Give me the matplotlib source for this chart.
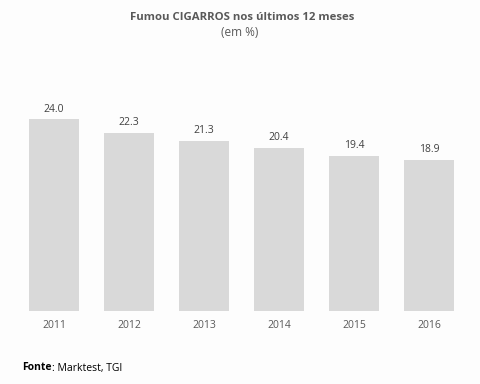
import matplotlib.pyplot as plt

years = ["2011", "2012", "2013", "2014", "2015", "2016"]
values = [24.0, 22.3, 21.3, 20.4, 19.4, 18.9]

plt.rcParams['font.family'] = ['Open Sans', 'DejaVu Sans']

fig = plt.figure(figsize=(4.81, 3.84), dpi=100, facecolor='#fdfdfd')
ax = fig.add_axes([16.5 / 481, (384 - 310.5) / 384, 450 / 481, 220.5 / 384])
ax.set_facecolor('#fdfdfd')

x = range(len(years))
ax.bar(x, values, width=0.667, color='#d9d9d9')
for i, v in enumerate(values):
    ax.text(i, v + 0.6, f"{v:.1f}", ha='center', va='bottom', fontsize=7.5, color='#404040')

ax.set_xlim(-0.5, 5.5)
ax.set_ylim(0, 220.5 / 7.96)
ax.set_xticks(list(x))
ax.set_xticklabels(years, fontsize=7.5, color='#595959')
ax.tick_params(axis='x', length=0, pad=7)
ax.set_yticks([])
for s in ax.spines.values():
    s.set_visible(False)

fig.text(242 / 481, 1 - 17 / 384, "Fumou CIGARROS nos últimos 12 meses", ha='center', va='center',
         fontsize=8.2, fontweight='bold', color='#595959')
fig.text(240 / 481, 1 - 33 / 384, "(em %)", ha='center', va='center', fontsize=8.5, color='#595959')

t = fig.text(22 / 481, 1 - 368 / 384, "Fonte", ha='left', va='center', fontsize=7.5, fontweight='bold', color='black')
fig.canvas.draw()
bb = t.get_window_extent()
fig.text(bb.x1 / 481 / 1.0, 1 - 368 / 384, ": Marktest, TGI", ha='left', va='center', fontsize=7.5, color='black')

fig.savefig('out.png', dpi=100, facecolor=fig.get_facecolor())
